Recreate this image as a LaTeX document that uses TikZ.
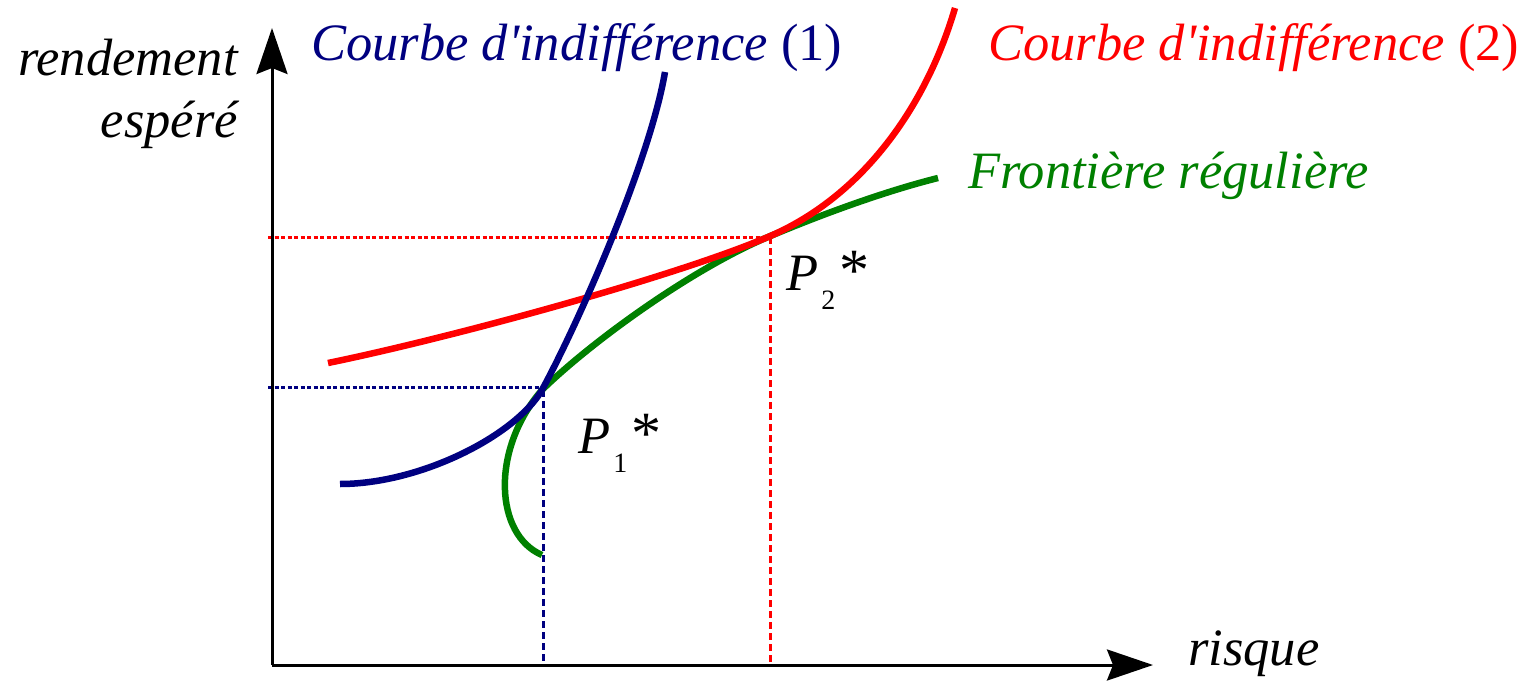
\documentclass[tikz,border=0pt]{standalone}
\usepackage{fontspec}
\setmainfont{Liberation Serif}[Ligatures=TeXOff]
\usetikzlibrary{arrows.meta}
\definecolor{cblue}{RGB}{0,0,128}
\definecolor{cred}{RGB}{255,0,0}
\definecolor{cgreen}{RGB}{0,128,0}
\tikzset{
  axis/.style={line width=3pt,-{Stealth[length=46pt,width=31pt,inset=6pt]}},
  curve/.style={line width=6.5pt,line cap=butt},
  hguide/.style={line width=3pt,dash pattern=on 4pt off 2.5pt},
  vguide/.style={line width=3pt,dash pattern=on 7pt off 4pt},
  lbl/.style={inner sep=0pt,font=\fontsize{52.5}{60}\selectfont\itshape},
}
\newcommand{\subsc}[1]{\raisebox{-19pt}{\fontsize{28}{30}\selectfont\upshape #1}}
\begin{document}
\begin{tikzpicture}[x=1pt,y=-1pt]
\useasboundingbox (0,0) rectangle (1532,685);
% key points
\coordinate (O) at (272,665);
\coordinate (Ytip) at (272,28);
\coordinate (Xtip) at (1153,665);
\coordinate (P1) at (542,390);
\coordinate (P2) at (768,237);
\coordinate (P1x) at (268,387);
\coordinate (P1b) at (543,665);
\coordinate (P2x) at (268,237);
\coordinate (P2b) at (770,665);
% guides
\draw[hguide,cblue] (P1x) -- (P1x -| P1);
\draw[vguide,cblue] (P1b |- P1) -- (P1b);
\draw[hguide,cred] (P2x) -- (P2x -| P2);
\draw[vguide,cred] (P2b |- P2) -- (P2b);
% curves
\draw[curve,cgreen] (542,555) .. controls (495,535) and (490,450) .. (P1)
  .. controls (590,343) and (690,270) .. (P2)
  .. controls (830,211) and (890,190) .. (938,178);
\draw[curve,cred] (328,363) .. controls (450,338) and (674,277) .. (P2)
  .. controls (860,198) and (925,110) .. (955,8);
\draw[curve,cblue] (340,484) .. controls (420,484) and (515,436) .. (P1)
  .. controls (580,320) and (650,160) .. (665,72);
% axes
\draw[axis] (O) -- (Ytip);
\draw[axis] (O) -- (Xtip);
% labels
\node[lbl,anchor=base east] (ylab1) at (238,75) {rendement};
\node[lbl,anchor=base east] (ylab2) at (238,137) {espéré};
\node[lbl,anchor=base west] (xlab) at (1188,665) {risque};
\node[lbl,anchor=base west,text=cblue] (c1) at (311,60) {Courbe d'indifférence \upshape(1)};
\node[lbl,anchor=base west,text=cred] (c2) at (988,60) {Courbe d'indifférence \upshape(2)};
\node[lbl,anchor=base west,text=cgreen] (fr) at (968,188) {Frontière régulière};
\node[lbl,anchor=base west] (p1) at (578,453) {P\kern3pt\subsc{1}\kern4pt{\fontsize{60}{60}\selectfont\upshape*}};
\node[lbl,anchor=base west] (p2) at (786,290) {P\kern3pt\subsc{2}\kern4pt{\fontsize{60}{60}\selectfont\upshape*}};
\end{tikzpicture}
\end{document}
